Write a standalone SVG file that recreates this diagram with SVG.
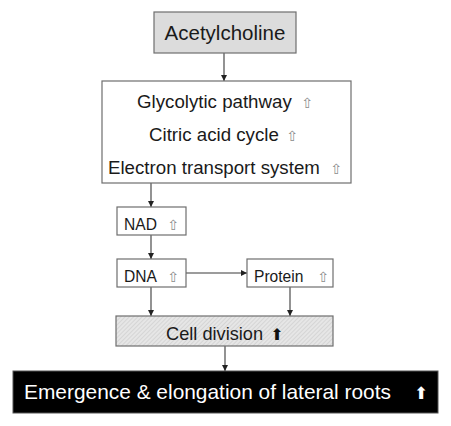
<svg xmlns="http://www.w3.org/2000/svg" width="451" height="426" viewBox="0 0 451 426">
<style>
.box{fill:#fff;stroke:#6e6e6e;stroke-width:1.2}
.t{font-family:"Liberation Sans",Arial,sans-serif;fill:#1a1a1a}
.up{font-family:"DejaVu Sans",sans-serif;fill:#8c8c8c;font-size:14px;text-anchor:middle}
.c{stroke:#3a3a3a;stroke-width:1.1;fill:none;marker-end:url(#ah)}
</style>
<defs>
<marker id="ah" viewBox="0 0 8 8" refX="8" refY="4" markerWidth="6" markerHeight="6" markerUnits="userSpaceOnUse" orient="auto">
<path d="M0,0 L8,4 L0,8 Z" fill="#222"/>
</marker>
<pattern id="hatch" width="3" height="3" patternUnits="userSpaceOnUse" patternTransform="rotate(45)">
<rect width="3" height="3" fill="#e6e6e6"/>
<line x1="0" y1="0" x2="0" y2="3" stroke="#c4c4c4" stroke-width="1"/>
</pattern>
</defs>
<rect width="451" height="426" fill="#fff"/>
<g id="connectors">
<line class="c" x1="224" y1="53" x2="224" y2="81"/>
<line class="c" x1="151" y1="183" x2="151" y2="207"/>
<line class="c" x1="151" y1="235" x2="151" y2="259"/>
<line class="c" x1="186" y1="273" x2="247" y2="273"/>
<line class="c" x1="151" y1="287" x2="151" y2="316"/>
<line class="c" x1="290" y1="287" x2="290" y2="316"/>
<line class="c" x1="225" y1="346" x2="225" y2="371"/>
</g>
<g id="acetylcholine">
<rect x="154" y="12" width="142" height="41" fill="#dcdcdc" stroke="#6e6e6e" stroke-width="1.2"/>
<text class="t" x="225" y="40" font-size="20.5" text-anchor="middle">Acetylcholine</text>
</g>
<g id="pathways">
<rect class="box" x="102" y="81" width="249" height="102"/>
<text class="t" x="137" y="108" font-size="18.7">Glycolytic pathway</text>
<text class="up" x="307" y="108">⇧</text>
<text class="t" x="149" y="141" font-size="18.7">Citric acid cycle</text>
<text class="up" x="292" y="141">⇧</text>
<text class="t" x="108" y="174" font-size="18.7">Electron transport system</text>
<text class="up" x="336" y="174">⇧</text>
</g>
<g id="nad">
<rect class="box" x="117" y="207" width="69" height="28"/>
<text class="t" x="124" y="229.5" font-size="15.6">NAD</text>
<text class="up" x="173" y="229.5">⇧</text>
</g>
<g id="dna">
<rect class="box" x="117" y="259" width="69" height="28"/>
<text class="t" x="124" y="282" font-size="15.6">DNA</text>
<text class="up" x="173" y="282">⇧</text>
</g>
<g id="protein">
<rect class="box" x="247" y="259" width="86" height="28"/>
<text class="t" x="254" y="282" font-size="15.6">Protein</text>
<text class="up" x="323" y="282">⇧</text>
</g>
<g id="celldivision">
<rect x="116" y="316" width="217" height="30" fill="url(#hatch)" stroke="#6e6e6e" stroke-width="1.2"/>
<text class="t" x="166" y="340" font-size="18.2">Cell division</text>
<text x="277" y="340" font-size="16" text-anchor="middle" font-family="DejaVu Sans,sans-serif" fill="#111">⬆</text>
</g>
<g id="roots">
<rect x="13" y="371" width="425" height="42" fill="#000" stroke="#555" stroke-width="1"/>
<text x="24" y="399" font-size="20.9" font-family="Liberation Sans,Arial,sans-serif" fill="#fff">Emergence &amp; elongation of lateral roots</text>
<text x="421" y="399" font-size="17" text-anchor="middle" font-family="DejaVu Sans,sans-serif" fill="#fff">⬆</text>
</g>
</svg>
